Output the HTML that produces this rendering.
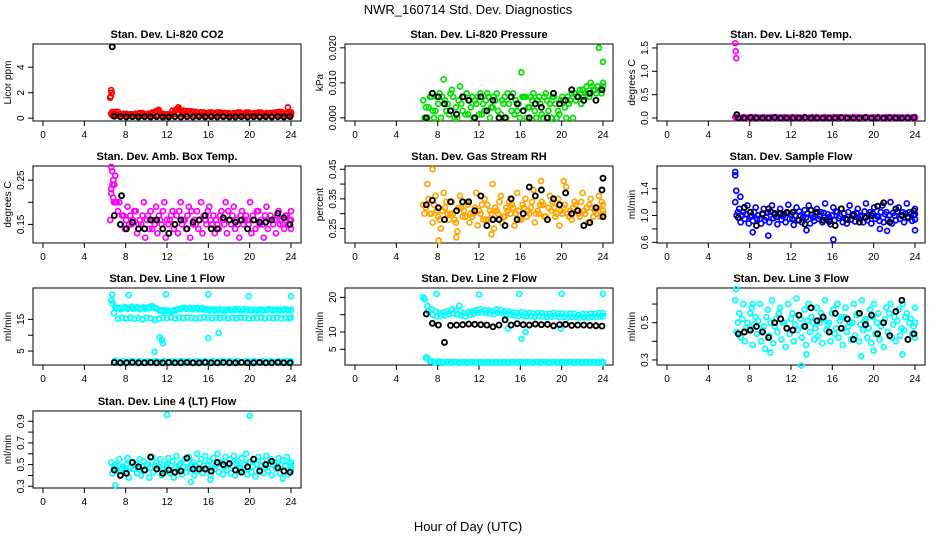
<!DOCTYPE html>
<html><head><meta charset="utf-8">
<style>
html,body{margin:0;padding:0;background:#fff;}
svg{display:block;font-family:"Liberation Sans",Arial,sans-serif;}
</style></head>
<body>
<svg id="chart" width="936" height="540" viewBox="0 0 936 540">
<text x="468" y="14" text-anchor="middle" font-size="13">NWR_160714  Std. Dev. Diagnostics</text>
<text x="468" y="531" text-anchor="middle" font-size="13">Hour of Day (UTC)</text>
</svg>
<script>
const xTicks=[0,4,8,12,16,20,24];
const co2A=[0.35,0.5,0.3,0.35,0.3,0.3,0.35,0.4,0.3,0.35,0.45,0.55,0.35,0.3,0.3,0.6,0.7,0.6,0.55,0.55,0.5,0.45,0.45,0.4,0.45,0.4,0.45,0.4,0.4,0.35,0.4,0.45,0.35,0.45,0.35,0.4,0.45,0.35,0.4,0.4,0.45,0.5,0.35,0.4,0.45];
const co2B=[0.2,0.25,0.15,0.2,0.2,0.15,0.2,0.2,0.15,0.2,0.2,0.25,0.2,0.15,0.2,0.3,0.35,0.3,0.3,0.3,0.25,0.25,0.25,0.2,0.25,0.2,0.25,0.2,0.2,0.2,0.25,0.2,0.2,0.25,0.2,0.25,0.2,0.2,0.25,0.2,0.25,0.2,0.2,0.2,0.25];
const co2K=[0.15,0.12,0.1,0.12,0.1,0.12,0.1,0.12,0.1,0.1,0.12,0.1,0.12,0.1,0.12,0.1,0.12,0.1,0.12,0.1,0.1,0.12,0.1,0.12,0.1,0.12,0.1,0.12,0.1,0.12];
const co2XT=[6.5,6.55,6.6,6.65,6.7,11.2,13.1,23.7], co2XV=[1.6,1.7,2.2,2.0,0.5,0.65,0.85,0.85];
const co2KT=[6.7], co2KV=[5.6];

const presA=[0.005,0.0,0.006,0.002,0.007,0.011,0.004,0.008,0.003,0.009,0.006,0.001,0.006,0.004,0.007,0.002,0.006,0.003,0.007,0.001,0.006,0.004,0.007,0.002,0.013,0.006,0.003,0.007,0.005,0.001,0.007,0.004,0.006,0.002,0.006,0.0,0.005,0.007,0.006,0.008,0.009,0.01,0.008,0.02,0.016];
const presB=[0.0,0.003,0.002,0.006,0.0,0.005,0.001,0.006,0.0,0.004,0.001,0.005,0.0,0.006,0.001,0.005,0.0,0.006,0.002,0.005,0.0,0.006,0.001,0.004,0.006,0.0,0.006,0.002,0.006,0.0,0.005,0.0,0.004,0.001,0.005,0.006,0.007,0.005,0.008,0.006,0.007,0.009,0.007,0.008,0.009];
const presC=[0.003,0.006,0.0,0.004,0.006,0.002,0.007,0.0,0.005,0.002,0.007,0.003,0.005,0.001,0.004,0.007,0.003,0.005,0.0,0.004,0.007,0.002,0.005,0.0,0.006,0.003,0.005,0.0,0.004,0.006,0.002,0.006,0.0,0.005,0.003,0.004,0.0,0.006,0.004,0.007,0.006,0.008,0.009,0.007,0.01];
const presK=[0.0,0.007,0.006,0.004,0.002,0.001,0.006,0.005,0.0,0.006,0.002,0.005,0.0,0.0,0.006,0.004,0.002,0.0,0.004,0.003,0.0,0.007,0.004,0.005,0.008,0.006,0.005,0.007,0.005,0.008];

const tmpA=[0.02,0.01,0.02,0.01,0.02,0.02,0.01,0.02,0.01,0.02,0.02,0.01,0.02,0.01,0.02,0.02,0.01,0.02,0.01,0.02,0.02,0.01,0.02,0.01,0.02,0.02,0.01,0.02,0.01,0.02,0.02,0.01,0.02,0.01,0.02,0.02,0.01,0.02,0.01,0.02,0.02,0.01,0.02,0.01,0.02];
const tmpB=[0.0,0.01,0.0,0.0,0.01,0.0,0.0,0.01,0.0,0.0,0.01,0.0,0.0,0.01,0.0,0.0,0.01,0.0,0.0,0.01,0.0,0.0,0.01,0.0,0.0,0.01,0.0,0.0,0.01,0.0,0.0,0.01,0.0,0.0,0.01,0.0,0.0,0.01,0.0,0.0,0.01,0.0,0.0,0.01,0.0];
const tmpK=[0.0,0.0,0.01,0.0,0.0,0.0,0.01,0.0,0.0,0.0,0.0,0.01,0.0,0.0,0.0,0.0,0.0,0.01,0.0,0.0,0.0,0.01,0.0,0.0,0.0,0.01,0.0,0.0,0.0,0.01];
const tmpXT=[6.6,6.65,6.7], tmpXV=[1.6,1.43,1.28];
const tmpKT=[6.75], tmpKV=[0.07];

const ambA=[0.22,0.26,0.2,0.17,0.19,0.15,0.18,0.16,0.2,0.17,0.14,0.19,0.16,0.2,0.15,0.18,0.17,0.2,0.16,0.19,0.15,0.18,0.2,0.16,0.19,0.17,0.15,0.18,0.2,0.16,0.19,0.15,0.18,0.17,0.2,0.16,0.18,0.15,0.19,0.17,0.16,0.18,0.15,0.17,0.18];
const ambB=[0.24,0.2,0.15,0.14,0.15,0.16,0.13,0.15,0.12,0.14,0.16,0.13,0.15,0.12,0.16,0.14,0.13,0.15,0.14,0.12,0.16,0.14,0.13,0.15,0.16,0.13,0.14,0.16,0.13,0.15,0.14,0.12,0.15,0.16,0.13,0.14,0.15,0.12,0.14,0.16,0.13,0.15,0.14,0.15,0.14];
const ambC=[0.2,0.18,0.17,0.16,0.17,0.18,0.15,0.17,0.16,0.18,0.15,0.17,0.18,0.16,0.17,0.15,0.18,0.16,0.17,0.18,0.15,0.16,0.17,0.18,0.15,0.16,0.17,0.15,0.18,0.17,0.16,0.17,0.16,0.15,0.17,0.18,0.16,0.17,0.16,0.15,0.17,0.16,0.17,0.16,0.16];
const ambK=[0.17,0.15,0.14,0.155,0.14,0.14,0.16,0.16,0.14,0.13,0.15,0.16,0.14,0.155,0.16,0.17,0.14,0.14,0.165,0.16,0.155,0.16,0.14,0.16,0.155,0.155,0.16,0.175,0.165,0.15];
const ambXT=[6.6,6.7,6.8,6.9,6.6,6.8,7.0,6.5], ambXV=[0.28,0.27,0.25,0.24,0.23,0.21,0.2,0.16];
const ambKT=[7.6], ambKV=[0.215];

const rhA=[0.33,0.4,0.3,0.36,0.28,0.37,0.3,0.34,0.27,0.36,0.31,0.33,0.29,0.37,0.3,0.35,0.28,0.4,0.31,0.36,0.29,0.34,0.32,0.37,0.28,0.35,0.3,0.38,0.31,0.34,0.29,0.36,0.32,0.35,0.3,0.39,0.31,0.34,0.3,0.37,0.32,0.35,0.31,0.36,0.33];
const rhB=[0.3,0.35,0.27,0.31,0.25,0.32,0.28,0.3,0.24,0.32,0.29,0.27,0.3,0.26,0.33,0.28,0.31,0.25,0.3,0.27,0.32,0.3,0.26,0.31,0.33,0.29,0.32,0.27,0.3,0.33,0.28,0.31,0.29,0.26,0.32,0.3,0.28,0.33,0.29,0.31,0.27,0.32,0.3,0.29,0.31];
const rhC=[0.32,0.3,0.33,0.29,0.31,0.34,0.3,0.28,0.32,0.29,0.34,0.3,0.32,0.31,0.28,0.33,0.3,0.32,0.34,0.29,0.31,0.33,0.3,0.28,0.32,0.31,0.34,0.3,0.33,0.29,0.32,0.34,0.3,0.31,0.33,0.29,0.32,0.31,0.34,0.3,0.33,0.29,0.32,0.34,0.3];
const rhK=[0.33,0.345,0.32,0.28,0.34,0.31,0.34,0.34,0.31,0.36,0.26,0.28,0.28,0.26,0.35,0.28,0.3,0.39,0.36,0.38,0.28,0.35,0.33,0.37,0.3,0.31,0.26,0.27,0.32,0.38];
const rhXT=[7.5,8.1,9.8,13.2,18.0,20.2], rhXV=[0.45,0.21,0.22,0.23,0.41,0.41];
const rhKT=[24,24], rhKV=[0.42,0.29];

const sfA=[1.2,1.1,1.05,1.15,1.0,1.12,0.95,1.1,1.05,1.15,0.98,1.1,1.02,1.16,0.95,1.12,1.0,1.08,1.15,0.97,1.1,1.05,1.18,0.98,1.12,1.05,1.1,0.95,1.15,1.02,1.1,1.0,1.18,1.05,1.12,0.98,1.15,1.05,1.2,1.0,1.12,1.05,1.18,1.02,1.1];
const sfB=[1.0,0.9,0.95,0.88,0.92,0.95,0.88,0.93,0.9,0.96,0.87,0.94,0.9,0.95,0.86,0.93,0.9,0.97,0.88,0.92,0.95,0.9,0.94,0.87,0.93,0.96,0.9,0.88,0.94,0.91,0.95,0.9,0.93,0.88,0.95,0.92,0.9,0.94,0.88,0.93,0.95,0.9,0.96,0.92,0.94];
const sfC=[1.05,1.0,1.02,0.98,1.05,1.0,1.03,0.97,1.06,1.01,1.04,0.99,1.05,1.02,1.0,1.06,0.98,1.03,1.01,1.05,0.99,1.04,1.02,1.0,1.06,0.99,1.03,1.05,1.0,1.04,0.98,1.06,1.01,1.03,0.99,1.05,1.02,1.0,1.04,1.06,1.0,1.03,1.05,1.01,1.02];
const sfK=[0.97,1.12,1.05,0.85,1.02,1.1,1.03,1.03,1.04,1.05,0.93,0.87,1.08,1.05,0.93,0.91,0.85,1.1,0.94,1.0,0.9,0.97,1.0,1.14,1.19,0.9,1.1,1.0,0.98,1.07];
const sfXT=[6.6,6.6,6.7,7.1,8.3,9.8,13.5,16.1,20.6,24.0,21.3], sfXV=[1.65,1.6,1.37,1.28,0.75,0.7,0.78,0.64,0.8,0.78,0.77];

const l1A=[21,19,18.5,18.6,18.3,19,18.5,18.2,18.8,18.5,19.2,18.5,17.7,17.5,17.8,17.6,18.0,18.3,18.6,18.4,18.2,18.5,18.3,18,17.8,18.1,17.9,18,17.8,18.1,17.9,18.2,18,17.8,17.9,18.1,17.8,18,17.9,18.1,17.8,18,17.9,18.1,18];
const l1D=[20,18.5,18.2,18.9,18.6,18.4,18.8,18.5,18.4,18.9,18.6,18.2,17.9,17.8,17.5,17.9,18.2,18.5,18.3,18.6,18.5,18.2,18.6,18.2,18.1,17.8,18.2,17.8,18.1,17.9,18.2,17.9,18.2,18.1,17.8,17.9,18.1,17.8,18.2,17.9,18.1,17.8,18.2,17.9,18.1];
const l1B=[17,15.2,15.5,15.3,15.5,15.2,15.4,15,15.5,15.3,14.8,15.2,15.5,15.4,15.6,15.3,15.5,15.4,15.6,15.5,15.3,15.4,15.6,15.5,15.3,15.5,15.4,15.6,15.3,15.5,15.4,15.6,15.5,15.3,15.4,15.5,15.6,15.3,15.5,15.4,15.5,15.3,15.5,15.4,15.6];
const l1C=[2.0,1.6,1.8,1.5,1.8,1.6,1.8,1.5,1.8,1.6,1.8,1.5,1.8,1.6,1.8,1.5,1.8,1.6,1.8,1.5,1.8,1.6,1.8,1.5,1.8,1.6,1.8,1.5,1.8,1.6,1.8,1.5,1.8,1.6,1.8,1.5,1.8,1.6,1.8,1.5,1.8,1.6,1.8,1.5,1.8];
const l1K=[1.4,1.3,1.3,1.4,1.3,1.3,1.4,1.3,1.3,1.4,1.3,1.3,1.4,1.3,1.3,1.4,1.3,1.3,1.4,1.3,1.3,1.4,1.3,1.3,1.4,1.3,1.3,1.4,1.3,1.3];
const l1XT=[6.7,8.3,10.8,11.3,11.5,11.6,11.9,16,16,17,19.9,24], l1XV=[22.8,22.7,4.7,9.4,8.5,7.5,22.9,22.9,9.1,10.7,22.3,22.3];

const l2A=[20,17.5,16.5,16,15.5,15.6,16,16.5,16.2,16,15.5,15.7,16,16.3,16.5,16.3,16.2,16,16.5,16.3,16,15.8,15.6,15.5,15.7,15.4,15.5,15.3,15.5,15.4,15.2,15.3,15.5,15.2,15.3,15.1,15.3,15.2,15,15.2,15.1,15.3,15.2,15.4,15.5];
const l2B=[19.5,16,15,14.5,14.7,14.8,15.2,15.4,15.1,14.8,14.5,14.9,15.3,15.6,15.7,15.5,15.4,15.2,15.6,15.4,15.1,15,14.8,14.6,14.8,14.5,14.6,14.4,14.6,14.5,14.3,14.4,14.6,14.3,14.4,14.2,14.4,14.3,14.1,14.3,14.2,14.4,14.3,14.5,14.6];
const l2C=[2.6,1.6,1.3,1.4,1.2,1.3,1.2,1.3,1.2,1.3,1.2,1.3,1.2,1.3,1.2,1.3,1.2,1.3,1.2,1.3,1.2,1.3,1.2,1.3,1.2,1.3,1.2,1.3,1.2,1.3,1.2,1.3,1.2,1.3,1.2,1.3,1.2,1.3,1.2,1.3,1.2,1.3,1.2,1.3,1.2];
const l2K=[15.2,12.5,12,7,11.9,12,12.1,12.3,12.2,12.1,12,11.5,12,13.5,12,12.4,12.1,12,12.3,12.1,12.2,11.8,12.1,12.2,11.9,12,12,11.9,11.8,11.7];
const l2XT=[7.9,10.1,12,14.8,15.9,16.1,16.5,19.9,20,24], l2XV=[21,17.6,20.8,11,21,8,10,11,21,21];

const l3A=[0.62,0.55,0.6,0.5,0.58,0.53,0.6,0.48,0.57,0.62,0.52,0.58,0.5,0.6,0.55,0.63,0.52,0.57,0.6,0.5,0.58,0.55,0.62,0.5,0.57,0.6,0.53,0.58,0.5,0.6,0.55,0.62,0.52,0.57,0.6,0.55,0.5,0.58,0.6,0.53,0.57,0.6,0.55,0.52,0.58];
const l3B=[0.45,0.42,0.4,0.46,0.38,0.44,0.4,0.36,0.43,0.39,0.45,0.41,0.37,0.44,0.4,0.46,0.42,0.38,0.45,0.41,0.43,0.39,0.46,0.4,0.44,0.42,0.38,0.45,0.41,0.43,0.4,0.46,0.42,0.39,0.44,0.41,0.37,0.45,0.42,0.4,0.43,0.46,0.41,0.44,0.42];
const l3C=[0.5,0.52,0.47,0.55,0.49,0.51,0.46,0.53,0.5,0.48,0.55,0.5,0.47,0.52,0.49,0.54,0.48,0.51,0.53,0.47,0.5,0.52,0.49,0.55,0.47,0.51,0.53,0.48,0.5,0.54,0.49,0.51,0.47,0.53,0.5,0.48,0.52,0.55,0.49,0.51,0.47,0.53,0.5,0.48,0.5];
const l3K=[0.44,0.45,0.46,0.48,0.45,0.42,0.5,0.52,0.47,0.46,0.54,0.48,0.58,0.51,0.53,0.45,0.55,0.47,0.52,0.41,0.55,0.49,0.54,0.44,0.5,0.43,0.56,0.62,0.41,0.44];
const l3XT=[6.7,8.3,10,13,13.5,16.5,18.8,20,22.8], l3XV=[0.68,0.6,0.34,0.27,0.33,0.6,0.32,0.35,0.33];

const l4A=[0.52,0.5,0.55,0.48,0.56,0.52,0.5,0.55,0.53,0.5,0.57,0.52,0.55,0.5,0.56,0.53,0.58,0.51,0.55,0.57,0.52,0.6,0.55,0.58,0.53,0.56,0.6,0.52,0.57,0.55,0.58,0.53,0.56,0.6,0.52,0.55,0.57,0.53,0.58,0.55,0.52,0.56,0.54,0.57,0.52];
const l4B=[0.42,0.45,0.4,0.44,0.38,0.46,0.42,0.4,0.45,0.38,0.43,0.46,0.4,0.44,0.42,0.38,0.45,0.41,0.43,0.46,0.4,0.44,0.42,0.45,0.4,0.46,0.43,0.41,0.45,0.42,0.4,0.44,0.46,0.41,0.43,0.39,0.45,0.42,0.44,0.4,0.46,0.42,0.44,0.41,0.45];
const l4C=[0.47,0.49,0.46,0.5,0.47,0.49,0.46,0.48,0.5,0.47,0.49,0.48,0.46,0.5,0.49,0.47,0.5,0.48,0.47,0.5,0.48,0.51,0.49,0.5,0.47,0.5,0.52,0.48,0.5,0.49,0.51,0.47,0.5,0.52,0.48,0.5,0.49,0.47,0.51,0.5,0.48,0.5,0.49,0.51,0.48];
const l4K=[0.45,0.4,0.42,0.52,0.48,0.45,0.57,0.46,0.42,0.45,0.43,0.44,0.56,0.46,0.46,0.46,0.44,0.52,0.5,0.51,0.45,0.43,0.48,0.55,0.44,0.5,0.53,0.47,0.44,0.43];
const l4XT=[7,12,20,14.3,16.2,23.2], l4XV=[0.31,0.96,0.95,0.34,0.36,0.37];

const panels=[
 {id:'co2',title:'Stan. Dev. Li-820 CO2',ylab:'Licor ppm',ymin:-0.22,ymax:5.82,ticks:[0,2,4],labels:['0','2','4'],col:'#ff0000',series:[co2A,co2B,co2A],xt:co2XT,xv:co2XV,k:co2K,kt:co2KT,kv:co2KV},
 {id:'pressure',title:'Stan. Dev. Li-820 Pressure',ylab:'kPa',ymin:-0.0009,ymax:0.0211,ticks:[0,0.01,0.02],labels:['0.000','0.010','0.020'],col:'#00e000',series:[presA,presB,presC],xt:[],xv:[],k:presK,kt:[],kv:[]},
 {id:'temp',title:'Stan. Dev. Li-820 Temp.',ylab:'degrees C',ymin:-0.064,ymax:1.585,ticks:[0,0.5,1,1.5],labels:['0.0','0.5','1.0','1.5'],col:'#ff00ff',series:[tmpA,tmpB],xt:tmpXT,xv:tmpXV,k:tmpK,kt:tmpKT,kv:tmpKV},
 {id:'amb-box-temp',title:'Stan. Dev. Amb. Box Temp.',ylab:'degrees C',ymin:0.108,ymax:0.282,ticks:[0.15,0.2,0.25],labels:['0.15','','0.25'],col:'#ff00ff',series:[ambA,ambB,ambC],xt:ambXT,xv:ambXV,k:ambK,kt:ambKT,kv:ambKV},
 {id:'gas-rh',title:'Stan. Dev. Gas Stream RH',ylab:'percent',ymin:0.201,ymax:0.461,ticks:[0.25,0.3,0.35,0.4,0.45],labels:['0.25','','0.35','','0.45'],col:'#ffa500',series:[rhA,rhB,rhC],xt:rhXT,xv:rhXV,k:rhK,kt:rhKT,kv:rhKV},
 {id:'sample-flow',title:'Stan. Dev. Sample Flow',ylab:'ml/min',ymin:0.59,ymax:1.739,ticks:[0.6,0.8,1.0,1.2,1.4],labels:['0.6','','1.0','','1.4'],col:'#0000ff',series:[sfA,sfB,sfC],xt:sfXT,xv:sfXV,k:sfK,kt:[],kv:[]},
 {id:'line1-flow',title:'Stan. Dev. Line 1 Flow',ylab:'ml/min',ymin:0.6,ymax:24.9,ticks:[5,10,15],labels:['5','','15'],col:'#00ffff',series:[l1A,l1D,l1B,l1C],xt:l1XT,xv:l1XV,k:l1K,kt:[],kv:[]},
 {id:'line2-flow',title:'Stan. Dev. Line 2 Flow',ylab:'ml/min',ymin:0.47,ymax:22.7,ticks:[5,10,15,20],labels:['5','10','','20'],col:'#00ffff',series:[l2A,l2B,l2C,l2C],xt:l2XT,xv:l2XV,k:l2K,kt:[],kv:[]},
 {id:'line3-flow',title:'Stan. Dev. Line 3 Flow',ylab:'ml/min',ymin:0.273,ymax:0.686,ticks:[0.3,0.4,0.5,0.6],labels:['0.3','','0.5',''],col:'#00ffff',series:[l3A,l3B,l3C],xt:l3XT,xv:l3XV,k:l3K,kt:[],kv:[]},
 {id:'line4-flow',title:'Stan. Dev. Line 4 (LT) Flow',ylab:'ml/min',ymin:0.284,ymax:0.995,ticks:[0.3,0.4,0.5,0.6,0.7,0.8,0.9],labels:['0.3','','0.5','','0.7','','0.9'],col:'#00ffff',series:[l4A,l4B,l4C],xt:l4XT,xv:l4XV,k:l4K,kt:[],kv:[]}
];
const NS='http://www.w3.org/2000/svg';
const svg=document.getElementById('chart');
function mk(tag,attrs,parent){const e=document.createElementNS(NS,tag);for(const k in attrs)e.setAttribute(k,attrs[k]);(parent||svg).appendChild(e);return e;}
const colL=[33,345,657], rowT=[44,166,288,411], W=268, H=77;
panels.forEach((p,i)=>{
  const L=colL[i%3], T=rowT[Math.floor(i/3)], B=T+H, R=L+W;
  const g=mk('g',{});
  
  
  const xs=h=>L+10+h*(W-20)/24;
  const ys=v=>B-(v-p.ymin)/(p.ymax-p.ymin)*H;
  const tt=mk('text',{x:L+W/2,y:T-6,'text-anchor':'middle','font-size':'11','font-weight':'bold'},g);
  tt.textContent=p.title;
  
  
  const box=mk('rect',{x:L,y:T,width:W,height:H,fill:'none',stroke:'#000','stroke-width':1},g);
  
  
  mk('line',{x1:xs(0),x2:xs(24),y1:B,y2:B,stroke:'#000'},g);
  xTicks.forEach(h=>{
    mk('line',{x1:xs(h),x2:xs(h),y1:B,y2:B+5,stroke:'#000'},g);
    const t=mk('text',{x:xs(h),y:B+17,'text-anchor':'middle','font-size':'10'},g);
    t.textContent=h;
    
    
  });
  mk('line',{x1:L,x2:L,y1:ys(p.ticks[0]),y2:ys(p.ticks[p.ticks.length-1]),stroke:'#000'},g);
  p.ticks.forEach((v,j)=>{
    const y=ys(v);
    mk('line',{x1:L-5,x2:L,y1:y,y2:y,stroke:'#000'},g);
    if(p.labels[j]){
      const t=mk('text',{x:L-9,y:y,'text-anchor':'middle','font-size':'10',transform:`rotate(-90 ${L-9} ${y})`},g);
      t.textContent=p.labels[j];
      
      
    }
  });
  const yl=mk('text',{x:L-22,y:T+H/2,'text-anchor':'middle','font-size':'10',transform:`rotate(-90 ${L-22} ${T+H/2})`},g);
  yl.textContent=p.ylab;
  
  
  const dot=(h,v,c,sw)=>{
    const e=mk('circle',{cx:xs(h),cy:ys(v),r:2.5,fill:'none',stroke:c,'stroke-width':sw},g);
    
    
  };
  p.series.forEach((arr,si)=>{
    const n=arr.length, off=si*0.13;
    arr.forEach((v,j)=>dot(Math.min(24,6.6+off+j*17.4/(n-1)),v,p.col,1.7));
  });
  p.xt.forEach((h,j)=>dot(h,p.xv[j],p.col,1.7));
  const nk=p.k.length;
  p.k.forEach((v,j)=>dot(6.9+j*17.0/(nk-1),v,'#000',1.9));
  p.kt.forEach((h,j)=>dot(h,p.kv[j],'#000',1.9));
});
</script>
</body></html>
